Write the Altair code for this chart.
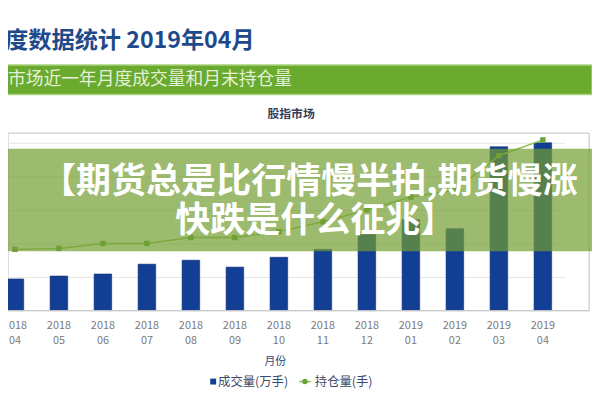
import altair as alt
import pandas as pd

months = ["2018 04", "2018 05", "2018 06", "2018 07", "2018 08", "2018 09", "2018 10",
          "2018 11", "2018 12", "2019 01", "2019 02", "2019 03", "2019 04"]
volume = [47.1, 51.5, 54.5, 69.2, 75.1, 64.8, 79.5, 91.3, 113.4, 135.4, 122.2, 244.4, 250.3]
holdings = [124000, 126000, 136000, 136000, 148000, 148000, 160000, 180000, 204000,
            230000, 244000, 314000, 346000]
grid_values = [50, 100, 150, 200, 250]

header_title = "股指期货月度数据统计 2019年04月"
band_title = "股指市场近一年月度成交量和月末持仓量"
panel_title = "股指市场"
x_title = "月份"
legend_labels = ["成交量(万手)", "持仓量(手)"]
banner_lines = ["【期货总是比行情慢半拍,期货慢涨", "快跌是什么征兆】"]

FONT = "Noto Sans CJK SC"
W, H = 589, 180
BLUE = "#123e93"

df = pd.DataFrame({"month": months, "volume": volume, "holdings": holdings})
dummy = pd.DataFrame({"d": [0]})

xscale = alt.Scale(domain=months, range=[-15.3, 564.5], paddingInner=0.6, paddingOuter=0.3)
xaxis = alt.Axis(title=None, labelExpr="split(datum.value, ' ')", labelColor="#7a7a7a",
                 labelFontSize=11, labelLineHeight=15, labelPadding=9, tickSize=0,
                 domain=False, ticks=False, labelAngle=0, labelFont=FONT, grid=False)

bars = alt.Chart(df).mark_bar(color=BLUE, stroke="#0c2f75", strokeWidth=0.6).encode(
    x=alt.X("month:O", scale=xscale, axis=xaxis, sort=months),
    y=alt.Y("volume:Q", scale=alt.Scale(domain=[0, 265], nice=False),
            axis=alt.Axis(values=grid_values, grid=True, gridColor="#e6e6e6", labels=False,
                          ticks=False, domain=False, title=None)),
)

line_y = alt.Y("holdings:Q", scale=alt.Scale(domain=[0, 360000], nice=False), axis=None)
line = alt.Chart(df).mark_line(color="#8cc152", strokeWidth=1.5).encode(
    x=alt.X("month:O", scale=xscale, sort=months), y=line_y)
points = alt.Chart(df).mark_point(shape="square", filled=True, size=30, color="#6aa33a",
                                  opacity=1).encode(
    x=alt.X("month:O", scale=xscale, sort=months), y=line_y)


def text(t, x, y, **kw):
    return alt.Chart(dummy).mark_text(text=t, font=FONT, baseline="middle", **kw).encode(
        x=alt.value(x), y=alt.value(y))


baseline = alt.Chart(dummy).mark_rule(color="#c8c8c8", strokeWidth=1).encode(
    x=alt.value(-8), x2=alt.value(W), y=alt.value(H))
top_frame = alt.Chart(dummy).mark_rule(color="#d2d2d2", strokeWidth=1.2).encode(
    x=alt.value(-8), x2=alt.value(W), y=alt.value(0))
right_frame = alt.Chart(dummy).mark_rule(color="#d2d2d2", strokeWidth=1.2).encode(
    x=alt.value(W), y=alt.value(0), y2=alt.value(H))

green_band = alt.Chart(dummy).mark_rect(color="#6aaa2e", stroke="#a8d27c", strokeWidth=1.5).encode(
    x=alt.value(-8), x2=alt.value(592), y=alt.value(-69), y2=alt.value(-39))

banner = alt.Chart(dummy).mark_rect(color="#739e32", opacity=0.7).encode(
    x=alt.value(-8), x2=alt.value(592), y=alt.value(16), y2=alt.value(120))

legend_sq = alt.Chart(dummy).mark_point(shape="square", filled=True, size=36, color=BLUE,
                                         opacity=1).encode(x=alt.value(208), y=alt.value(252))
legend_ln = alt.Chart(dummy).mark_rule(color="#8cc152", strokeWidth=1.5).encode(
    x=alt.value(295), x2=alt.value(307), y=alt.value(252))
legend_pt = alt.Chart(dummy).mark_point(shape="circle", filled=True, size=30, color="#6aa33a",
                                         opacity=1).encode(x=alt.value(301), y=alt.value(252))

layers = [
    bars, baseline, top_frame, right_frame, line, points,
    banner,
    text(banner_lines[0], 305.5, 50, align="center", fontSize=35.5, fontWeight="bold", color="white"),
    text(banner_lines[1], 311.5, 89, align="center", fontSize=35.5, fontWeight="bold", color="white"),
    text(header_title, 250, -93, align="right", fontSize=23.5, fontWeight="bold", color="#1f4a8a"),
    green_band,
    text(band_title, 288, -54, align="right", fontSize=18, color="#e4f1d6"),
    text(panel_title, 287, -19, align="center", fontSize=12, fontWeight="bold", color="#34405c"),
    text(x_title, 271, 232, align="center", fontSize=11, color="#2c4a7c"),
    legend_sq,
    text(legend_labels[0], 213, 252, align="left", fontSize=12.5, color="#3a4a6a"),
    legend_ln, legend_pt,
    text(legend_labels[1], 311, 252, align="left", fontSize=12.5, color="#3a4a6a"),
]

chart = alt.layer(*layers).resolve_scale(y="independent").properties(
    width=W, height=H,
    autosize=alt.AutoSizeParams(type="none"),
    padding={"left": 0, "top": 124, "right": 3, "bottom": 88},
).configure_view(stroke=None).configure(background="white")

chart.save("out.html", embed_options={"renderer": "svg", "actions": False})
